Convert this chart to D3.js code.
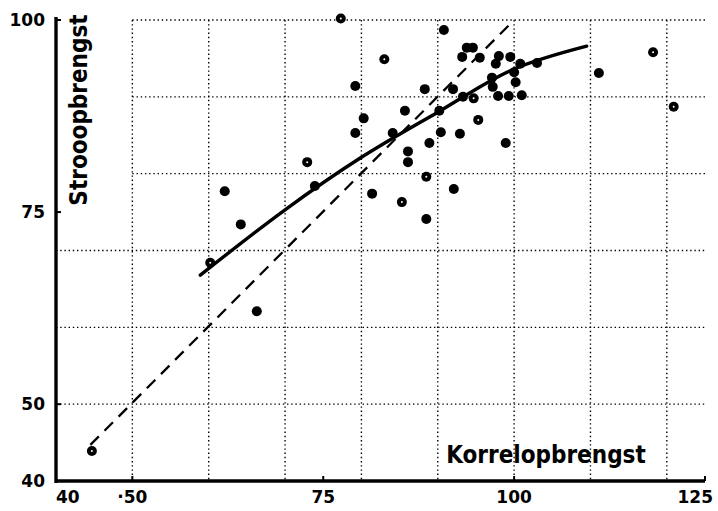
<!DOCTYPE html>
<html>
<head>
<meta charset="utf-8">
<script src="https://cdn.jsdelivr.net/npm/d3@7"></script>
<style>
  body { margin: 0; background: #fff; }
  text { font-family: "DejaVu Sans", sans-serif; fill: #000; }
  .title { font-family: "DejaVu Sans Condensed", "DejaVu Sans", sans-serif; font-weight: bold; }
</style>
</head>
<body>
<div id="chart"></div>
<script>
// korrelopbrengst (x) and strooopbrengst (y) per plot
const korrel = [77.3, 79.2, 79.2, 72.9, 73.9, 62.1, 64.2, 60.2, 66.3, 44.7,
  90.8, 83.0, 93.8, 94.6, 93.2, 95.5, 98.0, 99.5, 97.6, 100.8,
  103.0, 100.0, 100.2, 97.1, 97.2, 97.9, 99.3, 101.0, 92.0, 93.3,
  94.7, 88.3, 85.7, 80.3, 90.2, 95.3, 84.1, 90.4, 92.9, 88.9,
  98.9, 86.1, 86.1, 88.5, 81.4, 85.3, 92.1, 88.5, 111.1, 118.2, 120.9];
const stroo = [100.2, 91.4, 85.3, 81.5, 78.4, 77.7, 73.4, 68.4, 62.1, 43.9,
  98.7, 94.9, 96.4, 96.4, 95.2, 95.1, 95.3, 95.2, 94.3, 94.3,
  94.4, 93.2, 91.9, 92.5, 91.3, 90.1, 90.1, 90.2, 91.0, 90.0,
  89.8, 91.0, 88.2, 87.2, 88.2, 87.0, 85.3, 85.4, 85.2, 84.0,
  84.0, 82.9, 81.5, 79.6, 77.4, 76.3, 78.0, 74.1, 93.1, 95.8, 88.7];
// plots drawn with a small open centre
const ringed = [0, 3, 7, 9, 11, 30, 35, 43, 45, 49, 50];

// hand-drawn regression curve
const curveKorrel = [58.9, 70.0, 79.8, 90.0, 99.7, 109.5];
const curveStroo = [66.8, 75.3, 82.0, 88.0, 93.5, 96.6];

// dashed line x = y
const diagKorrel = [44.5, 99.3];
const diagStroo = [44.7, 99.3];

const xTicks = [40, 50, 75, 100, 125];
const xTickLabels = ["40", "·50", "75", "100", "125"];
const yTicks = [40, 50, 75, 100];
const gridX = [50, 60, 70, 80, 90, 100, 110, 120];
const gridY = [50, 60, 70, 80, 90, 100];

class YieldScatter {
  constructor(_config) {
    this.config = {
      parentElement: _config.parentElement,
      containerWidth: _config.containerWidth || 718,
      containerHeight: _config.containerHeight || 511
    };
    this.initVis();
  }

  initVis() {
    let vis = this;
    vis.svg = d3.select(vis.config.parentElement).append('svg')
      .attr('width', vis.config.containerWidth)
      .attr('height', vis.config.containerHeight);

    vis.x = d3.scaleLinear().domain([40, 125]).range([56, 705]);
    vis.y = d3.scaleLinear().domain([40, 100]).range([481, 20]);

    vis.renderVis();
  }

  renderVis() {
    let vis = this;
    const x = vis.x, y = vis.y;

    // dotted grid
    const grid = vis.svg.append('g')
      .attr('stroke', '#000')
      .attr('stroke-width', 1.4)
      .attr('stroke-dasharray', '1.4,2.8');
    grid.selectAll('.gx').data(gridX).join('line')
      .attr('x1', d => x(d)).attr('x2', d => x(d))
      .attr('y1', y(100)).attr('y2', y(40));
    grid.selectAll('.gy').data(gridY).join('line')
      .attr('x1', d => d >= 80 ? x(50) : x(40))
      .attr('x2', x(125))
      .attr('y1', d => y(d)).attr('y2', d => y(d));

    // axes
    const axes = vis.svg.append('g').attr('stroke', '#000').attr('fill', 'none');
    axes.append('line')
      .attr('x1', x(40)).attr('x2', x(40))
      .attr('y1', y(100) - 3).attr('y2', y(40) + 2)
      .attr('stroke-width', 3.4);
    axes.append('line')
      .attr('x1', x(40) - 1).attr('x2', x(125))
      .attr('y1', y(40)).attr('y2', y(40))
      .attr('stroke-width', 3.4);
    axes.selectAll('.ty').data(yTicks.slice(1)).join('line')
      .attr('x1', x(40)).attr('x2', x(40) + 5)
      .attr('y1', d => y(d)).attr('y2', d => y(d))
      .attr('stroke-width', 2);
    axes.selectAll('.tx').data(xTicks.slice(1)).join('line')
      .attr('x1', d => x(d)).attr('x2', d => x(d))
      .attr('y1', y(40)).attr('y2', y(40) - 5)
      .attr('stroke-width', 2);

    // tick labels
    vis.svg.selectAll('.ylab').data(yTicks).join('text')
      .attr('x', 45)
      .attr('y', d => y(d) + 6)
      .attr('text-anchor', 'end')
      .attr('font-size', 17)
      .attr('font-weight', 'bold')
      .text(d => d);
    vis.svg.selectAll('.xlab').data(xTicks).join('text')
      .attr('x', (d, i) => i === 0 ? x(d) : (i === xTicks.length - 1 ? x(d) + 8 : x(d)))
      .attr('y', 503)
      .attr('text-anchor', (d, i) => i === 0 ? 'start' : (i === xTicks.length - 1 ? 'end' : 'middle'))
      .attr('font-size', 17)
      .attr('font-weight', 'bold')
      .text((d, i) => xTickLabels[i]);

    // axis titles
    vis.svg.append('text')
      .attr('class', 'title')
      .attr('transform', 'translate(87,110) rotate(-90)')
      .attr('text-anchor', 'middle')
      .attr('font-size', 24)
      .text('Strooopbrengst');
    vis.svg.append('text')
      .attr('class', 'title')
      .attr('x', 546).attr('y', 463)
      .attr('text-anchor', 'middle')
      .attr('font-size', 24)
      .text('Korrelopbrengst');

    // dashed diagonal
    vis.svg.append('path')
      .datum(diagKorrel.map((d, i) => [d, diagStroo[i]]))
      .attr('d', d3.line().x(d => x(d[0])).y(d => y(d[1])))
      .attr('fill', 'none')
      .attr('stroke', '#000')
      .attr('stroke-width', 2.3)
      .attr('stroke-dasharray', '12,8');

    // fitted curve
    vis.svg.append('path')
      .datum(curveKorrel.map((d, i) => [d, curveStroo[i]]))
      .attr('d', d3.line().curve(d3.curveCatmullRom).x(d => x(d[0])).y(d => y(d[1])))
      .attr('fill', 'none')
      .attr('stroke', '#000')
      .attr('stroke-width', 3.4)
      .attr('stroke-linecap', 'round');

    // points
    const pts = korrel.map((d, i) => ({k: d, s: stroo[i], ring: ringed.includes(i)}));
    vis.svg.selectAll('.pt').data(pts).join('circle')
      .attr('cx', d => x(d.k))
      .attr('cy', d => y(d.s))
      .attr('r', 5)
      .attr('fill', '#000');
    vis.svg.selectAll('.ptc').data(pts.filter(d => d.ring)).join('circle')
      .attr('cx', d => x(d.k))
      .attr('cy', d => y(d.s))
      .attr('r', 1)
      .attr('fill', '#fff');
  }
}

new YieldScatter({parentElement: '#chart'});
</script>
</body>
</html>
